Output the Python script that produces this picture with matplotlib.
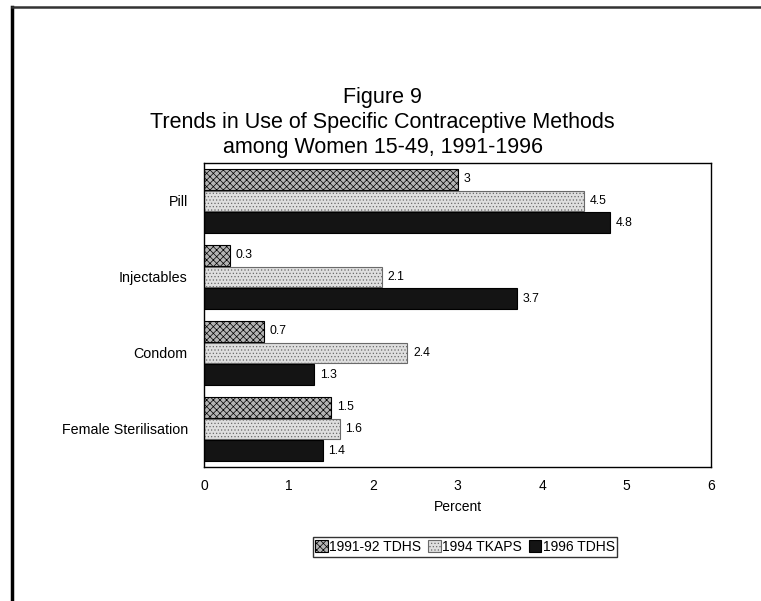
import numpy as np
import matplotlib
matplotlib.use("Agg")
import matplotlib.pyplot as plt
from matplotlib.lines import Line2D

plt.rcParams['font.family'] = ['Liberation Sans', 'DejaVu Sans']
plt.rcParams['hatch.linewidth'] = 0.5

methods = ['Pill', 'Injectables', 'Condom', 'Female Sterilisation']
series = ['1991-92 TDHS', '1994 TKAPS', '1996 TDHS']
tdhs_1991 = [3.0, 0.3, 0.7, 1.5]
tkaps_1994 = [4.5, 2.1, 2.4, 1.6]
tdhs_1996 = [4.8, 3.7, 1.3, 1.4]
value_labels = [
    ['3', '0.3', '0.7', '1.5'],
    ['4.5', '2.1', '2.4', '1.6'],
    ['4.8', '3.7', '1.3', '1.4'],
]

fig = plt.figure(figsize=(7.61, 6.01), dpi=100)
ax = fig.add_axes([0.2687, 0.2230, 0.6655, 0.5058])

y = np.arange(len(methods))
h = 0.285
styles = [
    dict(facecolor='#b4b4b4', hatch='xxxxx'),
    dict(facecolor='#dedede', hatch='.....'),
    dict(facecolor='#141414', hatch=None),
]
data = [tdhs_1991, tkaps_1994, tdhs_1996]
handles = []
for i, (vals, st) in enumerate(zip(data, styles)):
    pos = y + (i - 1) * h
    bars = ax.barh(pos, vals, height=h * 0.96, facecolor=st['facecolor'],
                   hatch=st['hatch'], edgecolor='#6a6a6a' if i == 1 else 'black',
                   linewidth=0.8, label=series[i])
    handles.append(bars)
    for p, v, lab in zip(pos, vals, value_labels[i]):
        ax.text(v + 0.07, p, lab, va='center', ha='left', fontsize=8.8)

ax.set_xlim(0, 6)
ax.set_ylim(len(methods) - 0.5, -0.5)
ax.set_xticks(range(7))
ax.set_yticks(y)
ax.set_yticklabels(methods, fontsize=10.3)
ax.tick_params(axis='y', length=0, pad=12)
ax.tick_params(axis='x', length=0, pad=9, labelsize=10)
for s in ax.spines.values():
    s.set_linewidth(1.0)
    s.set_color('black')
ax.set_xlabel('Percent', fontsize=10, labelpad=5)

fig.text(0.503, 0.838, 'Figure 9', ha='center', va='center', fontsize=15.5)
fig.text(0.503, 0.796, 'Trends in Use of Specific Contraceptive Methods',
         ha='center', va='center', fontsize=15.5)
fig.text(0.503, 0.754, 'among Women 15-49, 1991-1996',
         ha='center', va='center', fontsize=15.5)

leg = fig.legend(handles, series, loc='center', bbox_to_anchor=(0.611, 0.090),
                 ncol=3, fontsize=10, frameon=True, fancybox=False,
                 edgecolor='black', handlelength=0.9, handleheight=0.9,
                 handletextpad=0.1, columnspacing=0.5, borderpad=0.2,
                 borderaxespad=0)
leg.get_frame().set_linewidth(1.0)

# scanned page border
fig.add_artist(Line2D([12 / 761, 12 / 761], [0, 1 - 7 / 601], color='black',
                      linewidth=2.5, transform=fig.transFigure))
fig.add_artist(Line2D([12 / 761, 1], [1 - 7 / 601, 1 - 7 / 601], color='#333333',
                      linewidth=1.8, transform=fig.transFigure))

fig.savefig('out.png', dpi=100)
